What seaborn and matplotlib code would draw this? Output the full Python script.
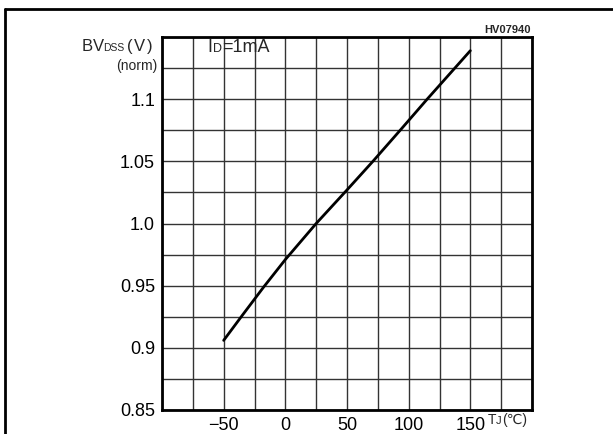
import matplotlib
matplotlib.use("Agg")
import matplotlib.pyplot as plt
import seaborn as sns
import pandas as pd
import numpy as np
from matplotlib.lines import Line2D

# Data
temp_c = [-50, -35, -17.5, 0, 25, 50, 71, 94, 115, 150]
bv_norm = [0.906, 0.926, 0.949, 0.971, 1.0, 1.027, 1.05, 1.076, 1.10, 1.139]
x_ticks = [-50, 0, 50, 100, 150]
x_tick_labels = ["\u221250", "0", "50", "100", "150"]
y_ticks = [0.85, 0.9, 0.95, 1.0, 1.05, 1.1]
y_tick_labels = ["0.85", "0.9", "0.95", "1.0", "1.05", "1.1"]

sns.set_theme(style="white")
plt.rcParams["font.family"] = ["Liberation Sans", "DejaVu Sans"]

W, H = 613, 434
fig = plt.figure(figsize=(W / 100, H / 100), dpi=100)
ax = fig.add_axes([162 / W, 1 - 410 / H, 370 / W, (410 - 37) / H])

df = pd.DataFrame({"T": temp_c, "BV": bv_norm})
sns.lineplot(data=df, x="T", y="BV", ax=ax, color="black", linewidth=2, zorder=5)

ax.set_xlim(-100, 200)
ax.set_ylim(0.85, 1.15)
ax.set_xticks(np.arange(-100, 201, 25), minor=True)
ax.set_yticks(np.arange(0.85, 1.1501, 0.025), minor=True)
ax.set_xticks(x_ticks)
ax.set_xticklabels(x_tick_labels)
ax.set_yticks(y_ticks)
ax.set_yticklabels(y_tick_labels)
ax.grid(which="both", color="#333333", linewidth=1.0)
ax.tick_params(which="both", length=0, labelsize=13, colors="black")
ax.tick_params(axis="y", pad=5)
ax.tick_params(axis="x", pad=5)
ax.set_xlabel("")
ax.set_ylabel("")
for s in ax.spines.values():
    s.set_visible(True)
    s.set_color("black")
    s.set_linewidth(2)

def px(x, y):
    return x / W, 1 - y / H

# Axis title pieces
fig.text(*px(82, 51), "B", fontsize=12, ha="left", va="baseline")
fig.text(*px(93, 51), "V", fontsize=12, ha="left", va="baseline")
fig.text(*px(103, 51), "DSS", fontsize=7.5, ha="left", va="baseline")
fig.text(*px(127, 51), "(", fontsize=12, ha="left", va="baseline")
fig.text(*px(134, 51), "V", fontsize=12, ha="left", va="baseline")
fig.text(*px(147, 51), ")", fontsize=12, ha="left", va="baseline")
fig.text(*px(157, 70), "(norm)", fontsize=10, ha="right", va="baseline")

# annotations
fig.text(*px(207, 52), "I", fontsize=13, ha="left", va="baseline")
fig.text(*px(213, 52), "D", fontsize=9, ha="left", va="baseline")
fig.text(*px(222, 52), "=1mA", fontsize=13, ha="left", va="baseline")
fig.text(*px(531, 33), "HV07940", fontsize=8, fontweight="bold", ha="right", va="baseline")
fig.text(*px(488, 424), "T", fontsize=10, ha="left", va="baseline")
fig.text(*px(496, 424), "J", fontsize=8, ha="left", va="baseline")
fig.text(*px(502, 424), "(\u2103)", fontsize=10, ha="left", va="baseline")

# outer frame (top and left edges)
fig.add_artist(Line2D([5 / W, 1], [1 - 9 / H, 1 - 9 / H], transform=fig.transFigure, color="black", linewidth=2))
fig.add_artist(Line2D([5 / W, 5 / W], [1 - 9 / H, 0], transform=fig.transFigure, color="black", linewidth=2))

fig.savefig("out.png", dpi=100)
